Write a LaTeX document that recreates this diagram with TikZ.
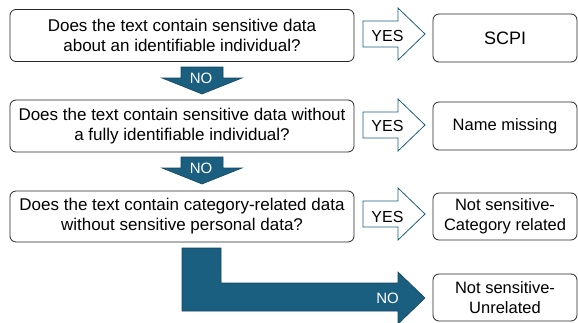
\documentclass[tikz,border=0pt]{standalone}
\usepackage{fontspec}
\setmainfont{Liberation Sans}
\definecolor{arrowblue}{RGB}{26,94,128}
\definecolor{arrowedge}{RGB}{20,70,96}
\newcommand\yesarr[1]{%
  \draw[yesarrow] (363,{#1-13}) -- (398,{#1-13}) -- (398,{#1-26}) -- (425,#1)
    -- (398,{#1+26}) -- (398,{#1+13}) -- (363,{#1+13}) -- cycle;}
\newcommand\noarr[1]{%
  \draw[noarrow] (181,#1) -- (223,#1) -- (223,{#1+11}) -- (242,{#1+11}) -- (202,{#1+27})
    -- (162,{#1+11}) -- (181,{#1+11}) -- cycle;}
\begin{document}
\begin{tikzpicture}[x=1pt,y=-1pt,
  qbox/.style={draw=black!85, line width=0.8pt, rounded corners=6pt,
    minimum width=344pt, minimum height=52pt, align=center, inner sep=2pt,
    font=\fontsize{17}{20}\selectfont},
  abox/.style={draw=black!85, line width=0.8pt, rounded corners=6pt,
    minimum width=144pt, minimum height=48pt, align=center, inner sep=2pt,
    font=\fontsize{16.5}{20}\selectfont},
  yesarrow/.style={draw=arrowblue, fill=white, line width=0.8pt, line join=miter},
  noarrow/.style={draw=arrowedge, fill=arrowblue, line width=0.6pt, line join=miter},
  yeslbl/.style={font=\fontsize{16}{16}\selectfont, inner sep=0pt, text=black},
  nolbl/.style={font=\fontsize{15}{15}\selectfont, inner sep=0pt, text=white}]
\useasboundingbox (0,0) rectangle (578,322);

% question boxes
\node[qbox] (q1) at (182,35.5) {Does the text contain sensitive data\\about an identifiable individual?};
\node[qbox] (q2) at (182,126) {Does the text contain sensitive data without\\a fully identifiable individual?};
\node[qbox, minimum height=51pt] (q3) at (182,216.5) {Does the text contain category-related data\\without sensitive personal data?};

% answer boxes
\node[abox, font=\fontsize{18}{20}\selectfont] (a1) at (505,38) {SCPI};
\node[abox] (a2) at (505,126) {Name missing};
\node[abox, minimum height=47pt] (a3) at (505,216.5) {Not sensitive-\\Category related};
\node[abox, minimum height=47pt] (a4) at (505,297.5) {Not sensitive-\\Unrelated};

% YES arrows
\yesarr{34}
\node[yeslbl] (y1) at (387.5,36) {YES};
\yesarr{125}
\node[yeslbl] (y2) at (387.5,125.5) {YES};
\yesarr{214}
\node[yeslbl] (y3) at (387.5,217) {YES};

% NO arrows
\noarr{67}
\node[nolbl] (n1) at (201,78) {NO};
\noarr{157}
\node[nolbl] (n2) at (201,168) {NO};

% elbow NO arrow
\draw[noarrow] (182,248) -- (221,248) -- (221,283) -- (398,283) -- (398,272) -- (425,298)
  -- (398,324) -- (398,311) -- (182,311) -- cycle;
\node[nolbl] (n3) at (387.5,298.5) {NO};
\end{tikzpicture}
\end{document}
